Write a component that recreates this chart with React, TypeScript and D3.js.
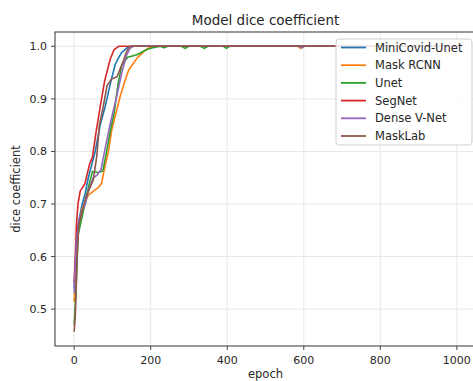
import React from "react";
import * as d3 from "d3";

const W = 473;
const H = 381;

// [epoch, dice]
const miniCovidUnet = [
  [0, 0.54], [4, 0.6], [10, 0.66], [21, 0.7], [29, 0.72], [37, 0.75], [46, 0.775],
  [55, 0.8], [68, 0.85], [81, 0.885], [95, 0.93], [107, 0.965], [116, 0.978],
  [124, 0.988], [138, 0.997], [150, 1.0], [999, 1.0],
];
const maskRcnn = [
  [0, 0.514], [3, 0.55], [10, 0.65], [20, 0.689], [37, 0.717], [55, 0.727],
  [63, 0.731], [72, 0.74], [80, 0.77], [89, 0.797], [98, 0.84], [110, 0.875],
  [120, 0.904], [131, 0.93], [142, 0.954], [153, 0.966], [164, 0.977], [185, 0.992],
  [198, 0.998], [215, 1.0], [585, 1.0], [592, 0.996], [600, 1.0], [999, 1.0],
];
const unet = [
  [0, 0.47], [4, 0.52], [10, 0.64], [28, 0.7], [40, 0.74], [48, 0.762], [62, 0.76],
  [75, 0.763], [85, 0.8], [95, 0.84], [105, 0.875], [115, 0.93], [125, 0.965],
  [140, 0.979], [164, 0.984], [190, 0.994], [210, 0.998], [225, 1.0], [235, 0.997],
  [245, 1.0], [280, 1.0], [290, 0.996], [300, 1.0], [330, 1.0], [340, 0.996],
  [350, 1.0], [390, 1.0], [398, 0.996], [406, 1.0], [999, 1.0],
];
const segNet = [
  [0, 0.55], [3, 0.6], [6, 0.66], [10, 0.7], [16, 0.725], [28, 0.738], [40, 0.775],
  [48, 0.79], [58, 0.84], [68, 0.885], [80, 0.935], [94, 0.975], [104, 0.993],
  [116, 1.0], [999, 1.0],
];
const denseVNet = [
  [0, 0.53], [5, 0.62], [12, 0.67], [29, 0.7], [37, 0.725], [50, 0.75], [60, 0.755],
  [70, 0.765], [85, 0.82], [95, 0.855], [111, 0.904], [124, 0.948], [137, 0.983],
  [146, 0.996], [155, 1.0], [588, 1.0], [595, 0.997], [602, 1.0], [999, 1.0],
];
const maskLab = [
  [0, 0.457], [3, 0.486], [8, 0.6], [12, 0.66], [26, 0.7], [33, 0.717], [50, 0.746],
  [59, 0.79], [66, 0.85], [76, 0.885], [86, 0.925], [98, 0.938], [112, 0.942],
  [122, 0.96], [130, 0.975], [137, 0.99], [145, 1.0], [999, 1.0],
];

const seriesNames = ["MiniCovid-Unet", "Mask RCNN", "Unet", "SegNet", "Dense V-Net", "MaskLab"];
const seriesData = [miniCovidUnet, maskRcnn, unet, segNet, denseVNet, maskLab];
const colors = ["#1f77b4", "#ff7f0e", "#2ca02c", "#d62728", "#9467bd", "#8c564b"];

const xTicks = [0, 200, 400, 600, 800, 1000];
const yTicks = [0.5, 0.6, 0.7, 0.8, 0.9, 1.0];

const LEFT = 55;
const RIGHT = 476;
const TOP = 32;
const BOTTOM = 346;
const FONT = "DejaVu Sans, sans-serif";
const TEXT = "#262626";

export default function App() {
  const x = d3.scaleLinear().domain([-50, 1050]).range([LEFT, RIGHT]);
  const y = d3.scaleLinear().domain([0.4299, 1.0272]).range([BOTTOM, TOP]);

  const line = d3
    .line<number[]>()
    .x((d) => x(d[0]))
    .y((d) => y(d[1]));

  const legX = 336;
  const legY = 39;
  const rowH = 17.7;

  return (
    <svg
      width={W}
      height={H}
      style={{ position: "absolute", left: 0, top: 0, background: "#fff" }}
      fontFamily={FONT}
    >
      <defs>
        <clipPath id="plot">
          <rect x={LEFT} y={TOP} width={RIGHT - LEFT} height={BOTTOM - TOP} />
        </clipPath>
      </defs>

      {/* grid */}
      {xTicks.map((t) => (
        <line key={"gx" + t} x1={x(t)} x2={x(t)} y1={TOP} y2={BOTTOM} stroke="#e8e8e8" strokeWidth={1} />
      ))}
      {yTicks.map((t) => (
        <line key={"gy" + t} x1={LEFT} x2={RIGHT} y1={y(t)} y2={y(t)} stroke="#e8e8e8" strokeWidth={1} />
      ))}

      {/* lines */}
      <g clipPath="url(#plot)">
        {seriesData.map((s, i) => (
          <path
            key={seriesNames[i]}
            d={line(s) || ""}
            fill="none"
            stroke={colors[i]}
            strokeWidth={1.6}
            strokeLinejoin="round"
          />
        ))}
      </g>

      {/* spines */}
      <rect x={LEFT} y={TOP} width={RIGHT - LEFT} height={BOTTOM - TOP} fill="none" stroke="#444" strokeWidth={1.1} />

      {/* x ticks */}
      {xTicks.map((t) => (
        <g key={"xt" + t}>
          <line x1={x(t)} x2={x(t)} y1={BOTTOM} y2={BOTTOM + 4} stroke="#444" />
          <text x={x(t)} y={364} textAnchor="middle" fontSize={11} fill={TEXT}>
            {t}
          </text>
        </g>
      ))}
      {/* y ticks */}
      {yTicks.map((t) => (
        <g key={"yt" + t}>
          <line x1={LEFT - 4} x2={LEFT} y1={y(t)} y2={y(t)} stroke="#444" />
          <text x={LEFT - 8} y={y(t) + 4} textAnchor="end" fontSize={11} fill={TEXT}>
            {t.toFixed(1)}
          </text>
        </g>
      ))}

      <text x={(LEFT + RIGHT) / 2} y={25} textAnchor="middle" fontSize={13.5} fill={TEXT}>
        Model dice coefficient
      </text>
      <text x={(LEFT + RIGHT) / 2} y={378} textAnchor="middle" fontSize={11.5} fill={TEXT}>
        epoch
      </text>
      <text
        transform={`translate(20, ${(TOP + BOTTOM) / 2}) rotate(-90)`}
        textAnchor="middle"
        fontSize={11.5}
        fill={TEXT}
      >
        dice coefficient
      </text>

      {/* legend */}
      <rect
        x={legX}
        y={legY}
        width={136}
        height={106}
        rx={3}
        fill="#fff"
        fillOpacity={0.85}
        stroke="#cfcfcf"
      />
      {seriesNames.map((n, i) => {
        const cy = 47.5 + i * rowH;
        return (
          <g key={"lg" + n}>
            <line x1={341} x2={366} y1={cy} y2={cy} stroke={colors[i]} strokeWidth={1.8} />
            <text x={375} y={cy + 4} fontSize={11.5} fill={TEXT}>
              {n}
            </text>
          </g>
        );
      })}
    </svg>
  );
}
